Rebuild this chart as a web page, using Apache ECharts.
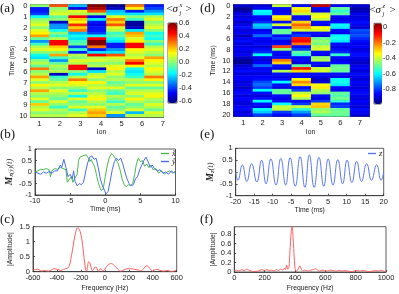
<!DOCTYPE html>
<html><head><meta charset="utf-8">
<script src="https://cdn.jsdelivr.net/npm/echarts@6/dist/echarts.min.js"></script>
<style>html,body{margin:0;padding:0;background:#fff}#c{width:399px;height:294px}</style>
</head><body><div id="c"></div>
<script>
// ---------- categories ----------
const ions = ['1','2','3','4','5','6','7'];
const timesA = [0,0.25,0.5,0.75,1,1.25,1.5,1.75,2,2.25,2.5,2.75,3,3.25,3.5,3.75,4,4.25,4.5,4.75,5,5.25,5.5,5.75,6,6.25,6.5,6.75,7,7.25,7.5,7.75,8,8.25,8.5,8.75,9,9.25,9.5,9.75,10];
const timesD = [0,0.5,1,1.5,2,2.5,3,3.5,4,4.5,5,5.5,6,6.5,7,7.5,8,8.5,9,9.5,10,10.5,11,11.5,12,12.5,13,13.5,14,14.5,15,15.5,16,16.5,17,17.5,18,18.5,19,19.5,20];

// ---------- panel (a): <sigma_j^x> per ion (rows = timesA) ----------
const sxIon1 = [0.0,-0.45,-0.45,-0.4,-0.15,0.0,0.05,0.1,0.0,0.1,0.15,0.25,-0.05,-0.3,-0.1,0.05,0.1,0.0,-0.15,-0.2,0.0,0.05,-0.05,0.3,0.0,0.05,0.25,0.1,0.0,0.15,0.05,0.25,0.05,0.0,0.1,-0.05,0.2,0.05,0.1,0.0,0.05];
const sxIon2 = [0.35,0.0,0.05,0.1,-0.05,0.0,-0.55,-0.3,-0.3,-0.15,0.0,-0.1,0.05,0.45,0.45,0.2,0.15,0.0,0.25,-0.1,-0.3,-0.05,0.05,0.0,0.05,-0.55,-0.1,-0.05,0.05,0.1,0.0,0.1,0.05,0.0,-0.05,0.1,0.0,-0.1,0.05,0.0,0.05];
const sxIon3 = [-0.25,-0.5,0.1,0.05,0.45,0.2,0.15,0.4,0.2,0.3,-0.25,-0.15,-0.2,-0.1,-0.05,-0.4,-0.1,-0.45,0.05,0.0,0.1,0.05,0.45,0.45,0.0,-0.15,0.05,0.3,0.15,0.1,0.0,-0.1,0.05,-0.15,0.1,-0.05,0.0,0.1,-0.1,0.05,0.1];
const sxIon4 = [0.6,0.55,0.35,0.0,-0.5,-0.2,-0.45,-0.5,-0.45,-0.45,-0.4,-0.15,0.45,0.6,0.6,0.3,-0.45,-0.2,0.45,0.05,0.1,0.0,0.05,-0.55,-0.2,0.05,0.1,0.0,0.15,0.05,0.1,0.0,0.05,0.1,0.15,0.05,0.0,0.1,0.2,0.25,0.2];
const sxIon5 = [-0.6,-0.55,-0.25,-0.2,0.1,0.3,0.2,0.35,0.1,0.05,-0.1,-0.05,-0.15,-0.2,-0.45,-0.45,-0.3,-0.2,0.35,0.1,0.05,0.0,0.1,0.15,0.05,0.1,0.0,0.05,-0.05,0.0,0.1,-0.05,-0.1,0.05,0.0,-0.1,0.05,-0.05,0.0,0.1,-0.3];
const sxIon6 = [0.3,0.15,-0.45,-0.2,0.0,-0.1,-0.6,-0.6,-0.55,-0.2,0.25,0.2,0.1,0.15,0.45,0.45,0.15,0.1,0.05,0.1,0.3,0.45,0.15,-0.15,-0.2,-0.15,-0.1,0.05,0.0,0.1,-0.05,0.05,0.1,0.0,0.15,0.05,-0.05,0.0,0.1,-0.25,0.05];
const sxIon7 = [-0.45,-0.4,-0.3,-0.2,0.05,0.1,0.0,0.05,0.1,0.0,-0.15,-0.1,-0.15,0.0,-0.1,0.05,0.1,0.05,0.0,0.25,0.15,0.1,0.05,0.15,0.1,0.05,0.3,0.15,0.0,0.1,-0.05,0.05,0.1,0.15,0.05,0.0,0.1,0.05,-0.05,0.1,0.05];

// ---------- panel (d): <sigma_j^z> per ion (rows = timesD) ----------
const szIon1 = [-0.9,-0.97,-0.95,-0.88,-0.9,-0.86,-0.92,-0.88,-0.85,-0.9,-0.87,-0.93,-0.88,-0.85,-0.9,-0.88,-0.86,-0.9,-0.87,-0.92,-0.96,-0.97,-0.9,-0.88,-0.85,-0.9,-0.87,-0.86,-0.9,-0.88,-0.92,-0.87,-0.85,-0.9,-0.86,-0.88,-0.9,-0.87,-0.85,-0.9,-0.88];
const szIon2 = [-0.9,-0.88,-0.6,-0.62,-0.85,-0.86,-0.82,-0.65,-0.68,-0.88,-0.85,-0.75,-0.86,-0.88,-0.85,-0.9,-0.85,-0.82,-0.6,-0.88,-0.9,-0.86,-0.75,-0.88,-0.85,-0.9,-0.86,-0.85,-0.78,-0.75,-0.8,-0.6,-0.85,-0.9,-0.85,-0.6,-0.85,-0.88,-0.6,-0.65,-0.8];
const szIon3 = [-0.4,-0.85,-0.88,-0.85,-0.33,-0.3,-0.85,-0.38,-0.85,-0.5,-0.5,-0.85,-0.8,-0.88,-0.85,-0.15,-0.45,-0.85,-0.88,-0.85,-0.2,-0.3,-0.85,-0.88,-0.42,-0.85,-0.88,-0.85,-0.6,-0.85,-0.88,-0.5,-0.5,-0.85,-0.88,-0.85,-0.6,-0.4,-0.4,-0.8,-0.85];
const szIon4 = [-0.85,-0.35,-0.3,-0.4,-0.85,-0.85,-0.3,-0.18,-0.25,-0.38,-0.85,-0.8,-0.1,-0.08,-0.2,-0.85,-0.8,-0.5,-0.55,-0.85,-0.85,-0.9,-0.5,-0.1,-0.3,-0.85,-0.85,-0.35,-0.22,-0.3,-0.85,-0.8,-0.4,-0.35,-0.42,-0.85,-0.8,-0.4,-0.55,-0.7,-0.8];
const szIon5 = [-0.02,-0.85,-0.88,-0.38,-0.35,-0.4,-0.85,-0.88,-0.35,-0.38,-0.85,-0.88,-0.5,-0.45,-0.48,-0.4,-0.38,-0.85,-0.88,-0.45,-0.42,-0.85,-0.88,-0.4,-0.38,-0.85,-0.88,-0.92,-0.9,-0.35,-0.32,-0.42,-0.45,-0.85,-0.88,-0.8,-0.3,-0.28,-0.45,-0.42,-0.5];
const szIon6 = [-0.85,-0.5,-0.55,-0.5,-0.85,-0.88,-0.85,-0.6,-0.62,-0.85,-0.88,-0.6,-0.58,-0.62,-0.85,-0.88,-0.85,-0.82,-0.55,-0.85,-0.88,-0.85,-0.5,-0.48,-0.5,-0.85,-0.88,-0.6,-0.58,-0.62,-0.85,-0.88,-0.5,-0.52,-0.48,-0.55,-0.82,-0.8,-0.5,-0.48,-0.5];
const szIon7 = [-0.9,-0.95,-0.93,-0.88,-0.9,-0.88,-0.85,-0.88,-0.9,-0.78,-0.8,-0.78,-0.82,-0.85,-0.88,-0.86,-0.9,-0.87,-0.85,-0.88,-0.9,-0.92,-0.88,-0.86,-0.9,-0.85,-0.88,-0.9,-0.86,-0.88,-0.9,-0.87,-0.85,-0.88,-0.9,-0.86,-0.88,-0.9,-0.85,-0.87,-0.9];

// ---------- panel (b): M_x~(t), M_y~(t)  [time ms, value] ----------
const xTilde = [[-10,0.0],[-9.6,0.05],[-9.2,0.12],[-8.8,0.1],[-8.4,0.15],[-8.0,0.1],[-7.8,-0.2],[-7.6,0.05],[-7.2,0.15],[-6.8,0.12],[-6.4,0.2],[-6.0,0.15],[-5.6,0.1],[-5.4,-0.45],[-5.2,-0.35],[-5.0,-0.4],[-4.8,-0.2],[-4.6,-0.45],[-4.4,-0.3],[-4.2,-0.35],[-4.0,-0.1],[-3.8,0.5],[-3.6,0.65],[-3.4,0.6],[-3.2,0.7],[-3.0,0.65],[-2.7,0.75],[-2.4,0.6],[-2.2,0.45],[-2.0,0.55],[-1.8,0.4],[-1.6,0.3],[-1.4,0.1],[-1.2,-0.2],[-1.0,-0.45],[-0.8,-0.65],[-0.6,-0.8],[-0.3,-0.75],[0,-0.2],[0.3,0.3],[0.6,0.65],[0.9,0.8],[1.2,0.7],[1.5,0.55],[1.8,0.4],[2.1,0.1],[2.4,-0.3],[2.7,-0.55],[3.0,-0.65],[3.3,-0.55],[3.6,-0.6],[3.9,-0.5],[4.2,-0.1],[4.4,0.3],[4.7,0.6],[5.0,0.45],[5.3,0.5],[5.6,0.25],[5.9,0.35],[6.2,0.2],[6.5,0.3],[6.8,0.1],[7.2,0.15],[7.6,-0.05],[8.0,0.05],[8.4,-0.1],[8.8,0.0],[9.2,0.05],[9.6,-0.05],[10,0.05]];
const yTilde = [[-10,0.0],[-9.6,-0.05],[-9.2,-0.1],[-8.8,0.0],[-8.4,-0.05],[-8.0,0.02],[-7.6,-0.05],[-7.2,0.05],[-6.8,0.05],[-6.4,0.3],[-6.2,0.2],[-5.9,0.55],[-5.6,0.2],[-5.3,-0.2],[-5.0,-0.1],[-4.7,-0.3],[-4.5,0.05],[-4.3,-0.4],[-4.0,-0.6],[-3.7,-0.5],[-3.4,-0.55],[-3.1,-0.45],[-2.8,0.0],[-2.5,0.4],[-2.2,0.65],[-1.9,0.7],[-1.6,0.55],[-1.3,0.6],[-1.0,0.2],[-0.7,-0.3],[-0.4,-0.6],[-0.1,-0.8],[0.1,-0.95],[0.4,-0.85],[0.7,-0.4],[1.0,0.1],[1.3,0.45],[1.6,0.6],[1.9,0.5],[2.2,0.6],[2.5,0.35],[2.8,0.0],[3.1,-0.3],[3.4,-0.5],[3.7,-0.6],[4.0,-0.55],[4.3,-0.3],[4.6,-0.2],[4.9,0.1],[5.2,0.3],[5.5,0.5],[5.8,0.65],[6.1,0.45],[6.4,0.2],[6.7,0.3],[7.0,0.15],[7.4,0.05],[7.8,0.1],[8.2,-0.05],[8.6,0.0],[9.0,-0.1],[9.4,0.05],[9.8,-0.05],[10,0.0]];

// ---------- panel (e): M_z(t) extrema [time ms, value] ----------
const zSeries = [[-20,0],[-19.4,-0.35],[-18.2,0.3],[-17.0,-0.4],[-15.7,0.35],[-14.3,-0.42],[-13.0,0.5],[-11.8,-0.5],[-10.5,0.55],[-9.1,-0.55],[-7.8,0.57],[-6.5,-0.55],[-5.3,0.6],[-3.9,-0.6],[-2.6,0.65],[-1.3,-0.65],[-0.1,0.72],[1.2,-0.65],[2.5,0.62],[3.8,-0.6],[5.0,0.55],[6.3,-0.55],[7.6,0.52],[8.9,-0.5],[10.1,0.5],[11.4,-0.45],[12.7,0.45],[14.0,-0.4],[15.4,0.35],[16.7,-0.35],[18.1,0.3],[19.3,-0.35],[20,0]];

// ---------- panel (c): |Amplitude| [Hz, value] ----------
const specC = [[-600,0.05],[-580,0.07],[-560,0.08],[-540,0.04],[-525,0.02],[-505,0.05],[-490,0.03],[-470,0.02],[-445,0.06],[-425,0.1],[-405,0.08],[-383,0.06],[-365,0.04],[-345,0.08],[-327,0.1],[-310,0.12],[-295,0.22],[-285,0.4],[-271,0.7],[-257,1.05],[-243,1.32],[-230,1.46],[-218,1.44],[-207,1.35],[-193,1.1],[-179,0.65],[-168,0.28],[-160,0.05],[-152,0.02],[-144,0.18],[-135,0.33],[-126,0.3],[-115,0.15],[-104,0.03],[-94,0.08],[-82,0.15],[-70,0.14],[-60,0.05],[-52,0.02],[-40,0.1],[-28,0.08],[-18,0.02],[-8,0.05],[5,0.12],[20,0.2],[40,0.26],[55,0.27],[70,0.24],[90,0.16],[110,0.08],[130,0.02],[150,0.04],[170,0.08],[195,0.1],[215,0.1],[240,0.09],[260,0.07],[280,0.06],[300,0.03],[315,0.06],[335,0.16],[352,0.2],[368,0.15],[385,0.06],[400,0.02],[415,0.06],[435,0.08],[455,0.05],[475,0.03],[495,0.02],[515,0.04],[535,0.03],[555,0.01],[575,0.02],[590,0.05],[600,0.08]];

// ---------- panel (f): |Amplitude| [Hz, value] ----------
const specF = [[0,0.03],[15,0.04],[30,0.02],[48,0.05],[65,0.03],[81,0.06],[95,0.04],[110,0.02],[130,0.01],[158,0.02],[180,0.05],[200,0.03],[215,0.05],[230,0.03],[246,0.04],[262,0.02],[278,0.05],[292,0.03],[305,0.06],[318,0.04],[330,0.08],[338,0.05],[345,0.15],[352,0.06],[360,0.1],[367,0.45],[375,0.85],[381,0.96],[388,0.7],[395,0.3],[402,0.04],[410,0.02],[420,0.06],[432,0.13],[442,0.06],[452,0.02],[465,0.04],[478,0.03],[490,0.02],[505,0.04],[520,0.05],[535,0.07],[550,0.04],[562,0.02],[578,0.04],[595,0.03],[612,0.02],[630,0.04],[650,0.03],[670,0.02],[690,0.03],[710,0.02],[730,0.03],[750,0.02],[770,0.01],[790,0.02],[810,0.03],[830,0.02],[850,0.03],[870,0.02],[890,0.01],[910,0.02],[930,0.03],[950,0.02],[965,0.04],[980,0.02],[1000,0.01]];

// ---------- build ----------
const heatA = [], heatD = [];
[sxIon1,sxIon2,sxIon3,sxIon4,sxIon5,sxIon6,sxIon7].forEach((col,i)=>col.forEach((v,k)=>heatA.push([i,k,v])));
[szIon1,szIon2,szIon3,szIon4,szIon5,szIon6,szIon7].forEach((col,i)=>col.forEach((v,k)=>heatD.push([i,k,v])));

const SANS = 'Liberation Sans, Arial, sans-serif';
const SERIF = 'Liberation Serif, Times New Roman, serif';
const JET = ['#00007f','#0000ff','#007fff','#00ffff','#7fff7f','#ffff00','#ff7f00','#ff0000','#7f0000'];
const AX = '#333';

function ax(o){
  const b = {
    axisLine:{show:true,onZero:false,lineStyle:{color:AX,width:0.8}},
    axisTick:{show:true,inside:true,length:2,lineStyle:{color:AX,width:0.8}},
    axisLabel:{fontSize:7.5,color:'#222',margin:2,fontFamily:SANS,formatter:(v)=>String(v)},
    splitLine:{show:false},
    nameTextStyle:{fontSize:6.8,color:'#222',fontFamily:SANS}
  };
  for (const k in o){
    if (o[k] && typeof o[k]==='object' && !Array.isArray(o[k]) && b[k] && typeof b[k]==='object') b[k]=Object.assign({},b[k],o[k]);
    else b[k]=o[k];
  }
  return b;
}
const every4 = (i)=> i%4===0;
const gridBox = {show:true,borderColor:AX,borderWidth:0.8,backgroundColor:'transparent',containLabel:false};
const mRich = {
  m:{fontFamily:SERIF,fontStyle:'italic',fontWeight:'bold',fontSize:9.5,color:'#222'},
  s:{fontFamily:SERIF,fontStyle:'italic',fontSize:6.5,color:'#222',verticalAlign:'bottom',padding:[4,0,0,0]},
  n:{fontFamily:SERIF,fontStyle:'italic',fontSize:8.5,color:'#222'}
};
function legendFor(name, left, top){
  return {data:[name],left:left,top:top,orient:'horizontal',icon:'rect',itemWidth:8,itemHeight:1.4,padding:0,
          textStyle:{fontSize:8.5,fontFamily:SERIF,fontStyle:'italic',color:'#222',padding:[0,0,0,-2]}};
}

const chart = echarts.init(document.getElementById('c'), null, {renderer:'canvas'});
const option = {
  animation:false,
  backgroundColor:'#fff',
  grid:[
    Object.assign({left:30.5,top:4.6,width:133,height:112.4},gridBox),   // a
    Object.assign({left:168,top:23,width:9,height:80},gridBox),          // a colorbar
    Object.assign({left:233.5,top:4.6,width:136,height:111.8},gridBox),  // d
    Object.assign({left:374,top:23.3,width:8,height:80.7},gridBox),      // d colorbar
    Object.assign({left:35,top:149,width:140.5,height:46},gridBox),      // b
    Object.assign({left:235.7,top:148.3,width:148,height:47.4},gridBox), // e
    Object.assign({left:33,top:226.7,width:143.7,height:45},gridBox),    // c
    Object.assign({left:234.3,top:226.7,width:151.7,height:45.3},gridBox)// f
  ],
  xAxis:[
    {type:'category',gridIndex:0,data:ions,show:false},
    ax({type:'value',gridIndex:0,position:'bottom',min:0.572,max:7.038,splitNumber:6,
        axisLabel:{showMinLabel:false,showMaxLabel:false,margin:3},axisTick:{show:false},
        name:'Ion',nameLocation:'middle',nameGap:11,nameTextStyle:{padding:[0,0,0,9]}}),
    {type:'value',gridIndex:1,min:0,max:1,show:false},
    ax({type:'category',gridIndex:2,data:ions,axisTick:{alignWithLabel:true},axisLabel:{margin:3},
        name:'Ion',nameLocation:'middle',nameGap:11,nameTextStyle:{padding:[0,0,0,18]}}),
    {type:'value',gridIndex:3,min:0,max:1,show:false},
    ax({type:'value',gridIndex:4,min:-10,max:10,interval:5,name:'Time (ms)',nameLocation:'middle',nameGap:9}),
    ax({type:'value',gridIndex:5,min:-20,max:20,interval:5,name:'Time (ms)',nameLocation:'middle',nameGap:10}),
    ax({type:'value',gridIndex:6,min:-600,max:600,interval:200,name:'Frequency (Hz)',nameLocation:'middle',nameGap:13}),
    ax({type:'value',gridIndex:7,min:0,max:1000,interval:200,name:'Frequency (Hz)',nameLocation:'middle',nameGap:13})
  ],
  yAxis:[
    ax({type:'category',gridIndex:0,data:timesA,inverse:true,
        axisLabel:{interval:every4,margin:3},axisTick:{interval:every4,alignWithLabel:true},
        name:'Time (ms)',nameLocation:'middle',nameGap:15}),
    ax({type:'value',gridIndex:1,position:'right',min:-0.63,max:0.6,splitNumber:6,axisLine:{show:false},
        axisLabel:{showMinLabel:false,margin:2,formatter:(v)=>(Math.abs(v)<1e-9?0:v).toFixed(1)}}),
    ax({type:'category',gridIndex:2,data:timesD,inverse:true,
        axisLabel:{interval:every4,margin:3},axisTick:{interval:every4,alignWithLabel:true},
        name:'Time (ms)',nameLocation:'middle',nameGap:17}),
    ax({type:'value',gridIndex:3,position:'right',min:-0.99,max:0.05,splitNumber:5,axisLine:{show:false},
        axisLabel:{showMinLabel:false,showMaxLabel:false,margin:2,formatter:(v)=>String(Math.round(v*10)/10)}}),
    ax({type:'value',gridIndex:4,min:-1,max:1,interval:0.5,axisLabel:{margin:3},
        name:'{m|M}{s|x\u0303(y\u0303)}{n|(t)}',nameLocation:'middle',nameGap:19,nameTextStyle:{rich:mRich}}),
    ax({type:'value',gridIndex:5,min:-1,max:1,interval:0.5,axisLabel:{margin:3},
        name:'{m|M}{s|z}{n|(t)}',nameLocation:'middle',nameGap:19,nameTextStyle:{rich:mRich}}),
    ax({type:'value',gridIndex:6,min:0,max:1.5,interval:0.5,axisLabel:{margin:3},
        name:'|Amplitude|',nameLocation:'middle',nameGap:19}),
    ax({type:'value',gridIndex:7,min:0,max:0.96,interval:0.2,axisLabel:{margin:3,showMaxLabel:false,formatter:(v)=>String(Math.round(v*10)/10)},
        name:'|Amplitude|',nameLocation:'middle',nameGap:16})
  ],
  visualMap:[
    {type:'continuous',seriesIndex:0,dimension:2,min:-0.63,max:0.6,left:168,top:23,itemWidth:9,itemHeight:80,
     calculable:false,padding:0,inRange:{color:JET},text:null,hoverLink:false},
    {type:'continuous',seriesIndex:1,dimension:2,min:-0.99,max:0.05,left:374,top:23.3,itemWidth:8,itemHeight:80.7,
     calculable:false,padding:0,inRange:{color:JET},text:null,hoverLink:false}
  ],
  legend:[
    legendFor('x\u0303',161,149),
    legendFor('y\u0303',161,157),
    legendFor('z',368,149)
  ],
  series:[
    {type:'heatmap',xAxisIndex:0,yAxisIndex:0,data:heatA,progressive:0,emphasis:{disabled:true}},
    {type:'heatmap',xAxisIndex:3,yAxisIndex:2,data:heatD,progressive:0,emphasis:{disabled:true}},
    {type:'line',name:'x\u0303',xAxisIndex:5,yAxisIndex:4,data:xTilde,symbol:'none',lineStyle:{color:'#4cbb4c',width:1},itemStyle:{color:'#4cbb4c'}},
    {type:'line',name:'y\u0303',xAxisIndex:5,yAxisIndex:4,data:yTilde,symbol:'none',lineStyle:{color:'#4a6cf0',width:1},itemStyle:{color:'#4a6cf0'}},
    {type:'line',name:'z',xAxisIndex:6,yAxisIndex:5,data:zSeries,symbol:'none',smooth:0.5,lineStyle:{color:'#5a78f0',width:1},itemStyle:{color:'#5a78f0'}},
    {type:'line',name:'specC',xAxisIndex:7,yAxisIndex:6,data:specC,symbol:'none',smooth:0.3,lineStyle:{color:'#ff6060',width:1},itemStyle:{color:'#ff6060'}},
    {type:'line',name:'specF',xAxisIndex:8,yAxisIndex:7,data:specF,symbol:'none',smooth:0.3,lineStyle:{color:'#ff6060',width:1},itemStyle:{color:'#ff6060'}}
  ],
  graphic:[
    {type:'text',x:0,y:2,style:{text:'(a)',fontSize:13,fontFamily:SERIF,fill:'#111'}},
    {type:'text',x:0,y:128,style:{text:'(b)',fontSize:13,fontFamily:SERIF,fill:'#111'}},
    {type:'text',x:0,y:213,style:{text:'(c)',fontSize:13,fontFamily:SERIF,fill:'#111'}},
    {type:'text',x:200,y:2,style:{text:'(d)',fontSize:13,fontFamily:SERIF,fill:'#111'}},
    {type:'text',x:200,y:128,style:{text:'(e)',fontSize:13,fontFamily:SERIF,fill:'#111'}},
    {type:'text',x:200,y:213,style:{text:'(f)',fontSize:13,fontFamily:SERIF,fill:'#111'}},
    {type:'text',x:166.5,y:4,style:{text:'<',fontSize:11,fontFamily:SERIF,fill:'#111'}},
    {type:'text',x:172.5,y:4,style:{text:'\u03c3',fontSize:11,fontFamily:SERIF,fontStyle:'italic',fill:'#111'}},
    {type:'text',x:179.5,y:2,style:{text:'x',fontSize:6.5,fontFamily:SERIF,fontStyle:'italic',fill:'#111'}},
    {type:'text',x:179.5,y:10,style:{text:'j',fontSize:6.5,fontFamily:SERIF,fontStyle:'italic',fill:'#111'}},
    {type:'text',x:185.5,y:4,style:{text:'>',fontSize:11,fontFamily:SERIF,fill:'#111'}},
    {type:'text',x:369.5,y:5,style:{text:'<',fontSize:11,fontFamily:SERIF,fill:'#111'}},
    {type:'text',x:375.5,y:5,style:{text:'\u03c3',fontSize:11,fontFamily:SERIF,fontStyle:'italic',fill:'#111'}},
    {type:'text',x:382.5,y:3,style:{text:'z',fontSize:6.5,fontFamily:SERIF,fontStyle:'italic',fill:'#111'}},
    {type:'text',x:382.5,y:11,style:{text:'j',fontSize:6.5,fontFamily:SERIF,fontStyle:'italic',fill:'#111'}},
    {type:'text',x:389.5,y:5,style:{text:'>',fontSize:11,fontFamily:SERIF,fill:'#111'}}
  ]
};
chart.setOption(option);
</script></body></html>
